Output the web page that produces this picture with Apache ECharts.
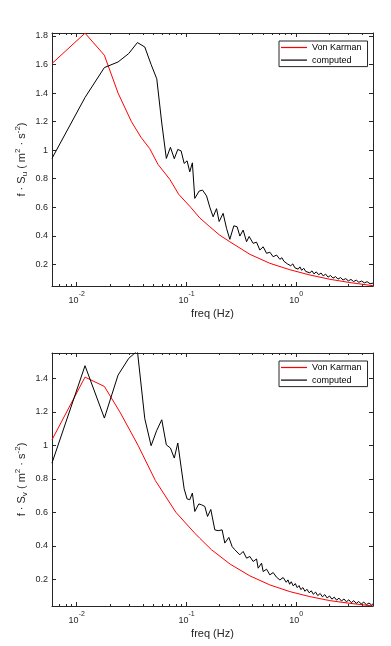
<!DOCTYPE html>
<html><head><meta charset="utf-8">
<script src="https://cdn.jsdelivr.net/npm/echarts@6/dist/echarts.min.js"></script>
<style>html,body{margin:0;padding:0;background:#fff}#c{width:391px;height:646px}</style>
</head><body><div id="c"></div>
<script>
// ---------- data ----------
const freqMin = 0.005952, freqMax = 5;
const majorTicks = [0.01, 0.1, 1];
const minorTicks = [0.007,0.008,0.009,0.02,0.03,0.04,0.05,0.06,0.07,0.08,0.09,0.2,0.3,0.4,0.5,0.6,0.7,0.8,0.9,2,3,4];
const yTicksU = [0.2,0.4,0.6,0.8,1,1.2,1.4,1.6,1.8];
const yTicksV = [0.2,0.4,0.6,0.8,1,1.2,1.4];
const seriesNames = ['Von Karman', 'computed'];
const seriesColors = ['#ff0000', '#000000'];

// top panel (u)
const uVKFreq = [0.00595,0.0119,0.01786,0.0238,0.0315,0.0385,0.0463,0.055,0.0705,0.085,0.109,0.132,0.1631,0.2,0.248,0.378,0.5746,0.8743,1.33,2.025,3.081,5];
const uVKVal  = [1.607,1.82,1.665,1.40,1.20,1.09,1.01,0.90,0.795,0.69,0.60,0.525,0.463,0.405,0.358,0.27,0.207,0.162,0.125,0.095,0.072,0.05];
const uCompFreq = [0.00595,0.0119,0.01786,0.0238,0.02976,0.0357,0.04167,0.0476,0.0536,0.0595,0.0655,0.0714,0.0774,0.0833,0.0893,0.0952,0.1012,0.1071,0.1131,0.119,
  0.1303,0.1399,0.1522,0.1631,0.1748,0.1877,0.1983,0.2156,0.2315,0.2481,0.2699,0.2892,0.3062,0.3281,0.3524,0.3721,0.4047,0.4346,0.4658,0.4993,0.5362,0.5746,0.6158,0.6614,0.7088,
  0.74,0.77,0.80,0.83,0.86,0.89,0.93,0.97,1.00,1.04,1.08,1.12,1.17,1.22,1.27,1.33,1.39,1.45,1.52,1.60,1.68,1.76,1.85,1.95,2.05,2.16,2.28,2.40,2.53,2.67,2.82,2.98,3.15,3.33,3.52,3.72,3.94,4.17,4.42,4.70,5.00];
const uCompVal = [0.942,1.369,1.579,1.618,1.677,1.754,1.723,1.60,1.50,1.19,0.942,1.02,0.94,1.005,0.995,0.907,0.925,0.848,0.911,0.662,
  0.713,0.72,0.68,0.60,0.533,0.59,0.50,0.557,0.452,0.375,0.47,0.463,0.398,0.44,0.358,0.395,0.347,0.355,0.30,0.323,0.277,0.285,0.253,0.265,0.235,
  0.246,0.222,0.232,0.203,0.217,0.19,0.203,0.176,0.19,0.166,0.182,0.158,0.172,0.15,0.163,0.14,0.154,0.133,0.147,0.127,0.139,0.119,0.131,0.11,0.122,0.103,0.114,0.096,0.107,0.09,0.1,0.084,0.094,0.079,0.089,0.074,0.083,0.07,0.078,0.064,0.068];

// bottom panel (v)
const vVKFreq = [0.00595,0.0119,0.01786,0.0247,0.0305,0.0362,0.052,0.08,0.119,0.132,0.169,0.25,0.378,0.5746,0.8743,1.33,2.025,3.081,5];
const vVKVal  = [1.033,1.408,1.352,1.20,1.09,1.00,0.79,0.60,0.475,0.445,0.376,0.29,0.22,0.166,0.126,0.096,0.072,0.056,0.04];
const vCompFreq = [0.00595,0.0119,0.01786,0.0238,0.02976,0.0357,0.04167,0.0476,0.0536,0.0595,0.0655,0.0714,0.0774,0.0833,0.0893,0.0952,0.1012,0.1071,0.1131,0.119,
  0.1294,0.137,0.1469,0.1554,0.1665,0.1811,0.1941,0.2111,0.2234,0.243,0.2605,0.2756,0.3062,0.3281,0.3524,0.3776,0.4047,0.4346,0.4497,0.4828,0.4993,0.5362,0.5746,0.6158,0.6614,0.7088,0.7597,
  0.81,0.84,0.87,0.90,0.94,0.98,1.02,1.06,1.10,1.15,1.20,1.25,1.31,1.37,1.43,1.50,1.57,1.65,1.73,1.82,1.91,2.01,2.11,2.22,2.33,2.45,2.58,2.72,2.86,3.01,3.17,3.34,3.52,3.71,3.91,4.12,4.35,4.60,4.85,5.00];
const vCompVal = [0.894,1.476,1.163,1.42,1.52,1.565,1.16,0.998,1.09,1.153,1.003,0.984,0.924,1.014,0.87,0.74,0.68,0.675,0.715,0.605,
  0.65,0.645,0.635,0.575,0.617,0.495,0.49,0.495,0.416,0.45,0.395,0.376,0.346,0.366,0.326,0.336,0.306,0.321,0.266,0.296,0.246,0.26,0.226,0.24,0.212,0.196,0.21,
  0.182,0.196,0.17,0.185,0.16,0.174,0.15,0.162,0.138,0.15,0.128,0.14,0.119,0.131,0.11,0.123,0.102,0.115,0.095,0.108,0.088,0.1,0.081,0.093,0.075,0.087,0.07,0.082,0.065,0.077,0.06,0.072,0.056,0.067,0.052,0.063,0.048,0.058,0.046,0.053];

// ---------- chart ----------
const FONT = '"Liberation Sans", Arial, Helvetica, sans-serif';
const AX = '#262626';
const pairs = (fs, vs) => fs.map((f, i) => [f, vs[i]]);

function xAxes(g) {
  const base = {gridIndex: g, type: 'log', logBase: 10, min: freqMin, max: freqMax,
    splitLine: {show: false}, axisLabel: {show: false}, axisTick: {show: false}, axisLine: {show: false}};
  const line = {show: true, onZero: false, lineStyle: {color: AX, width: 1}};
  const major = {show: true, inside: true, length: 4, customValues: majorTicks, lineStyle: {color: AX, width: 1}};
  const minor = {show: true, inside: true, length: 2, customValues: minorTicks, lineStyle: {color: AX, width: 1}};
  return [
    Object.assign({}, base, {position: 'bottom', axisLine: line, axisTick: major,
      axisLabel: {show: true, customValues: majorTicks, margin: 5,
        formatter: v => '{b|10}{s|' + Math.round(Math.log10(v)) + '}',
        rich: {b: {fontSize: 9, lineHeight: 14, verticalAlign: 'bottom', color: AX, fontFamily: FONT},
               s: {fontSize: 7, lineHeight: 7, verticalAlign: 'top', color: AX, fontFamily: FONT}}},
      name: 'freq (Hz)', nameLocation: 'middle', nameGap: 22, nameMoveOverlap: false,
      nameTextStyle: {fontSize: 11, color: AX, fontFamily: FONT}}),
    Object.assign({}, base, {position: 'bottom', axisTick: minor}),
    Object.assign({}, base, {position: 'top', axisLine: line, axisTick: major}),
    Object.assign({}, base, {position: 'top', axisTick: minor})
  ];
}
function yAxes(g, min, max, ticks, sub) {
  const line = {show: true, onZero: false, lineStyle: {color: AX, width: 1}};
  const tick = {show: true, inside: true, length: 4, customValues: ticks, lineStyle: {color: AX, width: 1}};
  return [
    {gridIndex: g, type: 'value', min: min, max: max, position: 'left', axisLine: line, axisTick: tick,
      splitLine: {show: false},
      axisLabel: {customValues: ticks, formatter: v => String(+v.toFixed(1)), fontSize: 9, color: AX, margin: 4, fontFamily: FONT},
      name: '{n|f · S}{sb|' + sub + '}{n| ( m}{sp|2}{n| · s}{sp|-2}{n|)}',
      nameLocation: 'middle', nameGap: 23, nameRotate: 90, nameMoveOverlap: false,
      nameTextStyle: {rich: {
        n: {fontSize: 11, lineHeight: 15, color: AX, fontFamily: FONT},
        sb: {fontSize: 8, lineHeight: 8, verticalAlign: 'bottom', color: AX, fontFamily: FONT},
        sp: {fontSize: 8, lineHeight: 8, verticalAlign: 'top', color: AX, fontFamily: FONT}}}},
    {gridIndex: g, type: 'value', min: min, max: max, position: 'right', axisLine: line, axisTick: tick,
      splitLine: {show: false}, axisLabel: {show: false}}
  ];
}
function legend(top) {
  return {data: seriesNames.map((n, i) => ({name: n, icon: 'rect',
      itemStyle: {color: seriesColors[i], borderColor: seriesColors[i], borderWidth: 0, opacity: 1}})),
    orient: 'vertical', left: 279, top: top, padding: [1, 6, 1, 2],
    itemGap: 1.6, itemWidth: 26, itemHeight: 1.2, borderColor: AX, borderWidth: 1, backgroundColor: '#fff',
    selectedMode: false, textStyle: {fontSize: 9, lineHeight: 11, color: '#000', fontFamily: FONT}};
}
function line(name, data, color, xi, yi) {
  return {name: name, type: 'line', xAxisIndex: xi, yAxisIndex: yi, data: data, symbol: 'none', color: color,
    lineStyle: {color: color, width: 1}, itemStyle: {color: color}, clip: true, silent: true};
}

const chart = echarts.init(document.getElementById('c'));
chart.setOption({
  animation: false,
  backgroundColor: '#fff',
  grid: [{left: 52, right: 18, top: 33, height: 253}, {left: 52, right: 18, top: 353, height: 253}],
  xAxis: xAxes(0).concat(xAxes(1)),
  yAxis: yAxes(0, 0.048, 1.821, yTicksU, 'u').concat(yAxes(1, 0.04, 1.552, yTicksV, 'v')),
  legend: [legend(41), legend(361)],
  series: [
    line(seriesNames[0], pairs(uVKFreq, uVKVal), seriesColors[0], 0, 0),
    line(seriesNames[1], pairs(uCompFreq, uCompVal), seriesColors[1], 0, 0),
    line(seriesNames[0], pairs(vVKFreq, vVKVal), seriesColors[0], 4, 2),
    line(seriesNames[1], pairs(vCompFreq, vCompVal), seriesColors[1], 4, 2)
  ]
});
</script></body></html>
